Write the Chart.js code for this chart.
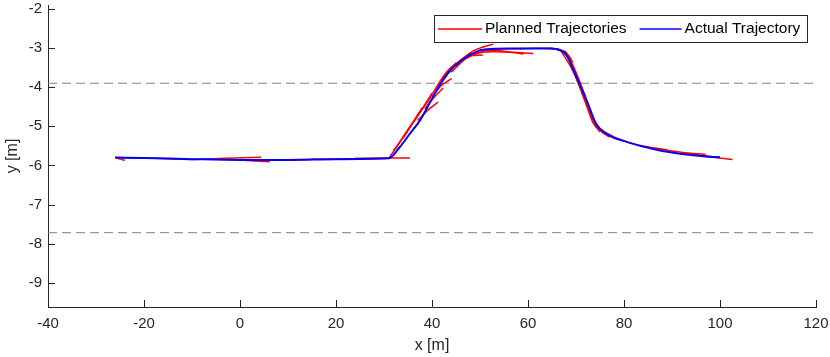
<!DOCTYPE html>
<html>
<head>
<meta charset="utf-8">
<script src="https://cdn.jsdelivr.net/npm/chart.js@4/dist/chart.umd.min.js"></script>
<style>
  html, body { margin: 0; padding: 0; background: #fff; }
  #wrap { width: 830px; height: 357px; position: relative; }
</style>
</head>
<body>
<div id="wrap"><canvas id="c"></canvas></div>
<script>
'use strict';
// axis setup
const xTicks = [-40, -20, 0, 20, 40, 60, 80, 100, 120];
const yTicks = [-9, -8, -7, -6, -5, -4, -3, -2];
const xRange = [-40, 120];
const yRange = [-9.62, -1.9];

// lane boundaries (dashed)
const laneX = [-40, 120];
const laneUpperY = [-3.9, -3.9];
const laneLowerY = [-7.72, -7.72];

// actual (driven) trajectory
const actualX = [-26, -20, -10, 0, 10, 20, 31, 33.3, 35.4, 37.5, 40.6, 42.3, 44, 45.8, 48, 50, 53, 56, 60, 65, 66.5, 68, 70.1, 72.2, 74.3, 76, 78, 80.6, 84, 87.5, 91, 94.4, 97.9, 100];
const actualY = [-5.80, -5.81, -5.84, -5.86, -5.86, -5.84, -5.82, -5.53, -5.19, -4.85, -4.16, -3.82, -3.55, -3.35, -3.17, -3.06, -3.02, -3.01, -3.01, -3.01, -3.05, -3.18, -3.74, -4.33, -4.97, -5.17, -5.30, -5.40, -5.52, -5.62, -5.69, -5.74, -5.78, -5.79];

// planned trajectories, one short horizon each
const plannedX = [
  [-26, -25, -24],
  [-26, -18, -10],
  [-10, -3, 4.4],
  [0, 6.2],
  [4, 15],
  [15, 25, 31],
  [24, 31, 35.4],
  [31, 33, 35, 37, 39],
  [32, 34, 36, 38],
  [34, 36, 38, 40],
  [37, 39.5, 41.3],
  [38.5, 40.5, 42.3],
  [40, 42, 44.1],
  [39, 41, 43, 45],
  [41, 43, 45, 47],
  [42, 44, 46, 48, 50.6],
  [44, 47, 50, 55, 61.1],
  [45, 48, 52, 56, 59],
  [46, 48.5, 50.5, 52.8],
  [50, 55, 60, 65, 66.5],
  [64, 66.5, 68.5, 69.3],
  [66, 68, 70, 72],
  [67, 69, 71, 73, 74.6],
  [70, 72, 73.5, 75],
  [71, 73, 75, 77],
  [73, 75, 78, 80],
  [78, 82, 86, 89],
  [86, 90, 94, 97],
  [92, 96, 99.3],
  [96, 99, 102.6],
];
const plannedY = [
  [-5.80, -5.84, -5.87],
  [-5.80, -5.82, -5.85],
  [-5.85, -5.82, -5.79],
  [-5.86, -5.91],
  [-5.86, -5.85],
  [-5.84, -5.83, -5.82],
  [-5.82, -5.81, -5.81],
  [-5.82, -5.46, -5.08, -4.74, -4.38],
  [-5.62, -5.28, -4.90, -4.52],
  [-5.30, -4.92, -4.55, -4.15],
  [-4.85, -4.55, -4.38],
  [-4.55, -4.25, -4.03],
  [-4.25, -3.95, -3.78],
  [-4.40, -3.98, -3.62, -3.38],
  [-4.05, -3.66, -3.40, -3.22],
  [-3.85, -3.52, -3.32, -3.20, -3.18],
  [-3.62, -3.28, -3.12, -3.10, -3.14],
  [-3.45, -3.18, -3.06, -3.10, -3.15],
  [-3.30, -3.08, -2.98, -2.90],
  [-3.05, -3.02, -3.01, -3.01, -3.04],
  [-3.01, -3.04, -3.20, -3.36],
  [-3.02, -3.12, -3.62, -4.25],
  [-3.10, -3.50, -4.05, -4.70, -5.06],
  [-3.75, -4.40, -4.90, -5.15],
  [-4.05, -4.68, -5.10, -5.28],
  [-4.70, -5.05, -5.28, -5.37],
  [-5.30, -5.45, -5.55, -5.60],
  [-5.56, -5.63, -5.69, -5.72],
  [-5.69, -5.74, -5.79],
  [-5.76, -5.80, -5.85],
];

const FONT = '"Liberation Sans", Arial, Helvetica, sans-serif';
const INK = '#262626';
const pts = (xs, ys) => xs.map((x, i) => ({ x, y: ys[i] }));

const datasets = [];
datasets.push({
  label: 'Actual Trajectory', data: pts(actualX, actualY),
  borderColor: '#0000ff', borderWidth: 2, cubicInterpolationMode: 'monotone', order: 0,
});
plannedX.forEach((xs, i) => datasets.push({
  label: i === 0 ? 'Planned Trajectories' : '', data: pts(xs, plannedY[i]),
  borderColor: '#ff0000', borderWidth: 1.5, tension: 0.3, order: 1,
}));
[laneUpperY, laneLowerY].forEach(ys => datasets.push({
  label: '', data: pts(laneX, ys),
  borderColor: '#808080', borderWidth: 1, borderDash: [9, 5], order: 2,
}));

// MATLAB-style ticks pointing into the axes
const inwardTicks = {
  id: 'inwardTicks',
  afterDatasetsDraw(chart) {
    const { ctx, scales: { x, y }, chartArea: a } = chart;
    ctx.save();
    ctx.strokeStyle = INK; ctx.lineWidth = 1;
    ctx.beginPath();
    x.ticks.forEach(t => {
      const px = Math.round(x.getPixelForValue(t.value)) + 0.5;
      ctx.moveTo(px, a.bottom); ctx.lineTo(px, a.bottom - 7);
    });
    y.ticks.forEach(t => {
      const py = Math.round(y.getPixelForValue(t.value)) + 0.5;
      ctx.moveTo(a.left, py); ctx.lineTo(a.left + 7, py);
    });
    ctx.stroke();
    ctx.restore();
  }
};

// legend box in the upper right, inside the axes
const boxLegend = {
  id: 'boxLegend',
  afterDraw(chart) {
    const { ctx, chartArea: a } = chart;
    const items = [
      { text: 'Planned Trajectories', color: '#ff0000', len: 44 },
      { text: 'Actual Trajectory', color: '#0000ff', len: 42 },
    ];
    ctx.save();
    ctx.font = '15.5px ' + FONT;
    const padL = 4, padR = 7, gap = 3, sep = 13;
    let w = padL + padR - sep;
    items.forEach(it => { w += it.len + gap + ctx.measureText(it.text).width + sep; });
    w = Math.round(w);
    const h = 27, right = Math.round(a.right) - 9, top = Math.round(a.top) + 10;
    const left = right - w;
    ctx.fillStyle = '#fff';
    ctx.fillRect(left, top, w, h);
    ctx.strokeStyle = INK; ctx.lineWidth = 1;
    ctx.strokeRect(left + 0.5, top + 0.5, w, h);
    let cx = left + padL;
    const cy = top + h / 2 + 0.5;
    items.forEach(it => {
      ctx.strokeStyle = it.color; ctx.lineWidth = 1.5;
      ctx.beginPath(); ctx.moveTo(cx, cy); ctx.lineTo(cx + it.len, cy); ctx.stroke();
      cx += it.len + gap;
      ctx.fillStyle = '#000'; ctx.textBaseline = 'middle';
      ctx.fillText(it.text, cx, cy);
      cx += ctx.measureText(it.text).width + sep;
    });
    ctx.restore();
  }
};

new Chart(document.getElementById('c'), {
  type: 'line',
  data: { datasets },
  options: {
    responsive: true, maintainAspectRatio: false, animation: false,
    layout: { padding: { left: 0, right: 14, top: 5, bottom: 0 } },
    elements: { point: { radius: 0 }, line: { fill: false } },
    plugins: { legend: { display: false }, tooltip: { enabled: false } },
    scales: {
      x: {
        type: 'linear', min: xRange[0], max: xRange[1],
        afterBuildTicks: s => { s.ticks = xTicks.map(v => ({ value: v })); },
        afterFit: s => { s.height = 50; s.paddingLeft = 0; s.paddingRight = 0; },
        grid: { drawOnChartArea: false, drawTicks: false },
        border: { display: true, color: INK, width: 1 },
        ticks: { color: INK, font: { family: FONT, size: 15 }, padding: 8, maxRotation: 0 },
        title: { display: true, text: 'x [m]', color: INK, font: { family: FONT, size: 16 }, padding: { top: 0, bottom: 2 } },
      },
      y: {
        type: 'linear', min: yRange[0], max: yRange[1],
        afterBuildTicks: s => { s.ticks = yTicks.map(v => ({ value: v })); },
        afterFit: s => { s.width = 48; s.paddingTop = 0; s.paddingBottom = 0; },
        grid: { drawOnChartArea: false, drawTicks: false },
        border: { display: true, color: INK, width: 1 },
        ticks: { color: INK, font: { family: FONT, size: 15 }, padding: 6 },
        title: { display: true, text: 'y [m]', color: INK, font: { family: FONT, size: 16 }, padding: { top: 3, bottom: 0 } },
      },
    },
  },
  plugins: [inwardTicks, boxLegend],
});
</script>
</body>
</html>
